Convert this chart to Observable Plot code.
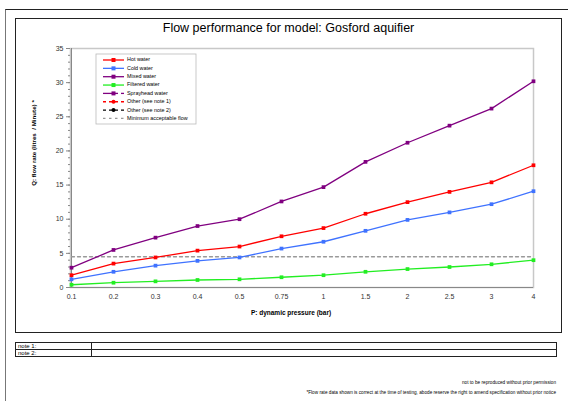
<!DOCTYPE html>
<html>
<head>
<meta charset="utf-8">
<script src="https://cdn.jsdelivr.net/npm/d3@7"></script>
<script src="https://cdn.jsdelivr.net/npm/@observablehq/plot@0.6"></script>
<style>
  html, body { margin: 0; padding: 0; background: #fff; }
  body { width: 568px; height: 401px; position: relative; overflow: hidden; font-family: "Liberation Sans", Arial, sans-serif; }
  .abs { position: absolute; }
  #outer { left: 5px; top: 9px; width: 570px; height: 400px; border-left: 1.5px solid #777; border-top: 1.5px solid #222; }
  #inner { left: 15px; top: 18px; width: 547px; height: 315px; border: 1px solid #222; box-sizing: border-box; }
  #title { left: 15px; width: 547px; top: 21px; text-align: center; font-size: 12.5px; color: #000; }
  #notes { left: 15px; top: 342px; width: 542px; border-collapse: collapse; font-size: 6px; }
  #notes td { border: 1px solid #222; padding: 0 2px; height: 6px; line-height: 6px; }
  .foot { right: 12px; font-size: 4.7px; color: #000; text-align: right; white-space: nowrap; }
  #chart { left: 0; top: 0; }
</style>
</head>
<body>
<div id="outer" class="abs"></div>
<div id="inner" class="abs"></div>
<div id="title" class="abs">Flow performance for model: Gosford aquifier</div>
<table id="notes" class="abs">
  <tr><td style="width:71px">note 1:</td><td></td></tr>
  <tr><td>note 2:</td><td></td></tr>
</table>
<div class="abs foot" style="top:380px">not to be reproduced without prior permission</div>
<div class="abs foot" style="top:390px">*Flow rate data shown is correct at the time of testing, abode reserve the right to amend specification without prior notice</div>
<div id="chart" class="abs"></div>
<script>
const pressures = ["0.1","0.2","0.3","0.4","0.5","0.75","1","1.5","2","2.5","3","4"];
const hotWater      = [1.8, 3.5, 4.4, 5.4, 6.0, 7.5, 8.7, 10.8, 12.5, 14.0, 15.4, 17.9];
const coldWater     = [1.2, 2.3, 3.2, 3.9, 4.4, 5.7, 6.7, 8.3, 9.9, 11.0, 12.2, 14.1];
const mixedWater    = [2.9, 5.5, 7.3, 9.0, 10.0, 12.6, 14.7, 18.4, 21.2, 23.7, 26.2, 30.2];
const filteredWater = [0.4, 0.7, 0.9, 1.1, 1.2, 1.5, 1.8, 2.3, 2.7, 3.0, 3.4, 4.0];
const minimumFlow = 4.5;
const yTicks = [0, 5, 10, 15, 20, 25, 30, 35];

const seriesNames = ["Hot water","Cold water","Mixed water","Filtered water","Sprayhead water","Other (see note 1)","Other (see note 2)","Minimum acceptable flow"];
const seriesColors = ["#ff0000","#3f72ff","#800080","#22ee22","#800080","#ff0000","#000000","#999999"];
const seriesValues = [hotWater, coldWater, mixedWater, filteredWater];

const rows = [];
seriesValues.forEach((vals, i) => {
  vals.forEach((v, j) => rows.push({series: seriesNames[i], p: pressures[j], q: v}));
});
const minRows = pressures.map(p => ({p, q: minimumFlow}));

const colorDomain = seriesNames.slice(0, 4);
const colorRange = seriesColors.slice(0, 4);

const chart = Plot.plot({
  width: 568,
  height: 401,
  marginLeft: 70,
  marginRight: 35,
  marginTop: 48,
  marginBottom: 114,
  style: {fontFamily: "Liberation Sans, Arial, sans-serif", background: "transparent"},
  x: {type: "point", domain: pressures, padding: 0, label: null},
  y: {domain: [0, 35], label: null},
  color: {domain: colorDomain, range: colorRange},
  marks: [
    Plot.frame({stroke: "#c8c8c8", strokeWidth: 1.5}),
    Plot.ruleX([pressures[0]], {stroke: "#888"}),
    Plot.ruleY([0], {stroke: "#888"}),
    Plot.axisY(d3.range(0, 36, 1), {tickSize: 2, text: null, stroke: "#888"}),
    Plot.axisY(yTicks, {tickSize: 4, tickPadding: 3, fontSize: 7, fill: "#333", stroke: "#888"}),
    Plot.axisX({tickSize: 0, tickPadding: 7, fontSize: 7, fill: "#333"}),
    Plot.line(minRows, {x: "p", y: "q", stroke: "#999", strokeWidth: 1.3, strokeDasharray: "3,3"}),
    Plot.line(rows, {x: "p", y: "q", z: "series", stroke: "series", strokeWidth: 1.3}),
    Plot.dot(rows, {x: "p", y: "q", fill: "series", symbol: "square", r: 2.1})
  ]
});

const svg = d3.select(chart);
svg.append("text")
  .attr("transform", "translate(34,143) rotate(-90)")
  .attr("text-anchor", "middle")
  .attr("font-size", 6.2).attr("font-weight", "bold")
  .attr("dominant-baseline", "middle")
  .style("white-space", "pre")
  .text("Q: flow rate (litres  / Minute) *");
svg.append("text")
  .attr("x", 291).attr("y", 313)
  .attr("text-anchor", "middle")
  .attr("dominant-baseline", "middle")
  .attr("font-size", 6.5).attr("font-weight", "bold")
  .text("P: dynamic pressure (bar)");

// legend
const lg = svg.append("g").attr("transform", "translate(96,54)");
lg.append("rect").attr("width", 100).attr("height", 70).attr("fill", "#fff").attr("stroke", "#bbb").attr("stroke-width", 0.8);
seriesNames.forEach((name, i) => {
  const y = 6 + i * 8.35;
  const c = seriesColors[i];
  const g = lg.append("g").attr("transform", `translate(0,${y})`);
  let dash = null;
  if (i >= 5) dash = "3,3";
  if (i === 7) dash = "2.5,3.5";
  if (i === 4) {
    g.append("line").attr("x1", 7).attr("x2", 22).attr("y1", 0).attr("y2", 0).attr("stroke", c).attr("stroke-width", 1.3);
    g.append("line").attr("x1", 25).attr("x2", 28).attr("y1", 0).attr("y2", 0).attr("stroke", c).attr("stroke-width", 1.3);
  } else {
    g.append("line").attr("x1", 7).attr("x2", 28).attr("y1", 0).attr("y2", 0).attr("stroke", c).attr("stroke-width", 1.3).attr("stroke-dasharray", dash);
  }
  if (i < 5) g.append("rect").attr("x", 15.5).attr("y", -2).attr("width", 4).attr("height", 4).attr("fill", c);
  else if (i < 7) g.append("circle").attr("cx", 17.5).attr("cy", 0).attr("r", 2).attr("fill", c);
  g.append("text").attr("x", 31).attr("y", 0).attr("dominant-baseline", "middle")
    .attr("text-anchor", "start")
    .attr("font-size", 5.4).attr("fill", "#000").text(name);
});

document.getElementById("chart").appendChild(chart);
</script>
</body>
</html>
